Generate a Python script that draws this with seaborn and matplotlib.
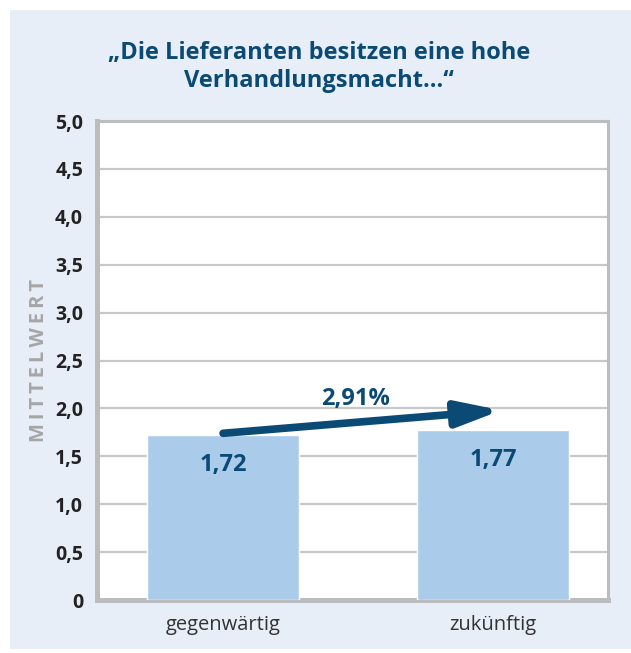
import matplotlib
matplotlib.use("Agg")
import matplotlib.pyplot as plt
import matplotlib.patches as patches
import pandas as pd
import seaborn as sns

# data
categories = ["gegenwärtig", "zukünftig"]
means = [1.72, 1.77]
value_labels = ["1,72", "1,77"]
change_label = "2,91%"
y_ticks = [0, 0.5, 1.0, 1.5, 2.0, 2.5, 3.0, 3.5, 4.0, 4.5, 5.0]
y_tick_labels = ["0", "0,5", "1,0", "1,5", "2,0", "2,5", "3,0", "3,5", "4,0", "4,5", "5,0"]
title = "\u201eDie Lieferanten besitzen eine hohe\nVerhandlungsmacht...\u201c"
y_label = "\u2009".join("MITTELWERT")

dark_blue = "#0b4a75"
bar_blue = "#abcbea"
panel_bg = "#e7eef8"
frame_grey = "#bbbcbe"

sns.set_style("white")
plt.rcParams["font.family"] = ["Open Sans", "DejaVu Sans"]

df = pd.DataFrame({"Zeitpunkt": categories, "Mittelwert": means})

fig = plt.figure(figsize=(6.31, 6.53), dpi=100, facecolor="white")
fig.add_artist(patches.Rectangle((10 / 631, 4 / 653), 621 / 631, 639 / 653,
                                 transform=fig.transFigure, facecolor=panel_bg,
                                 edgecolor="none", zorder=-5))

ax = fig.add_axes([97 / 631, 53 / 653, 511 / 631, 479 / 653])
ax.set_zorder(2)
ax.set_facecolor("white")

sns.barplot(data=df, x="Zeitpunkt", y="Mittelwert", color=bar_blue,
            width=0.563, saturation=1, ax=ax, zorder=3)

ax.set_xlim(-0.467, 1.426)
ax.set_ylim(0, 5)
ax.set_yticks(y_ticks)
ax.set_yticklabels(y_tick_labels, fontsize=14, fontweight="bold", color="#222222")
ax.tick_params(axis="both", length=0)
ax.tick_params(axis="y", pad=10)
ax.tick_params(axis="x", pad=11)
for lab in ax.get_xticklabels():
    lab.set_fontsize(14.5)
    lab.set_color("#333333")

ax.yaxis.grid(True, color="#c8c8c8", linewidth=1.6, zorder=0)
ax.set_axisbelow(True)

ax.set_xlabel("")
ax.set_ylabel(y_label, fontsize=14.5, fontweight="bold", color="#a6a6a6")
ax.yaxis.set_label_coords(-0.093, 0.50)

for side in ["left", "bottom"]:
    ax.spines[side].set_color(frame_grey)
    ax.spines[side].set_linewidth(3.6)
for side in ["top", "right"]:
    ax.spines[side].set_color(frame_grey)
    ax.spines[side].set_linewidth(2.2)

# value labels inside the bars
for i, v in enumerate(means):
    ax.text(i, v - 0.31, value_labels[i], ha="center", va="center",
            fontsize=17, fontweight="bold", color=dark_blue, zorder=5)

# growth arrow
ax.annotate("", xy=(1.03, 1.98), xytext=(0.0, 1.74),
            arrowprops=dict(arrowstyle="-|>,head_length=1.3,head_width=0.38",
                            mutation_scale=20, color=dark_blue, lw=5.5,
                            shrinkA=0, shrinkB=0),
            zorder=6)
ax.text(0.49, 2.10, change_label, ha="center", va="center", fontsize=17,
        fontweight="bold", color=dark_blue, zorder=6)

fig.text(0.505, 0.897, title, ha="center", va="center", fontsize=17,
         fontweight="bold", color=dark_blue, linespacing=1.2)

fig.savefig("out.png", dpi=100, facecolor=fig.get_facecolor())
